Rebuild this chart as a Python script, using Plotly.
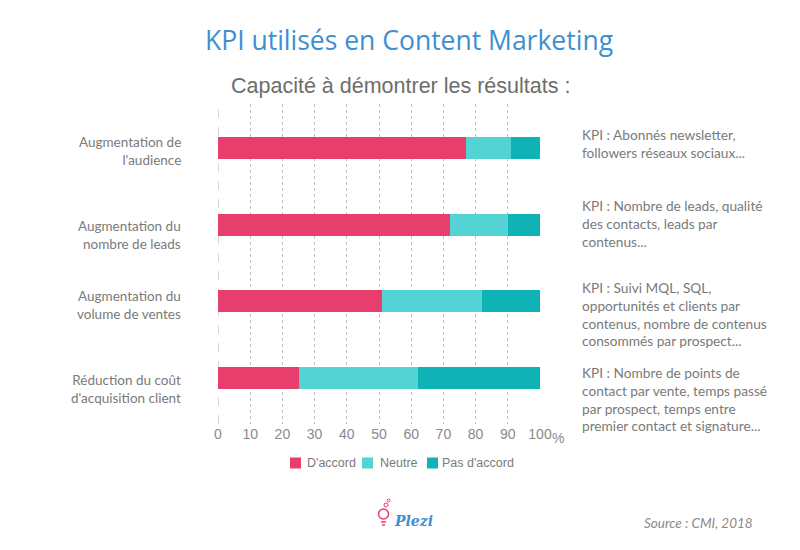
import plotly.graph_objects as go

categories = ["Augmentation de<br>l'audience",
              "Augmentation du<br>nombre de leads",
              "Augmentation du<br>volume de ventes",
              "Réduction du coût<br>d'acquisition client"]
series_names = ["D'accord", "Neutre", "Pas d'accord"]
d_accord = [77, 72, 51, 25]
neutre = [14, 18, 31, 37]
pas_accord = [9, 10, 18, 38]
kpi_notes = ["KPI : Abonnés newsletter,<br>followers réseaux sociaux...",
             "KPI : Nombre de leads, qualité<br>des contacts, leads par<br>contenus...",
             "KPI : Suivi MQL, SQL,<br>opportunités et clients par<br>contenus, nombre de contenus<br>consommés par prospect...",
             "KPI : Nombre de points de<br>contact par vente, temps passé<br>par prospect, temps entre<br>premier contact et signature..."]
x_ticks = [0, 10, 20, 30, 40, 50, 60, 70, 80, 90, 100]
x_ticklabels = ["0", "10", "20", "30", "40", "50", "60", "70", "80", "90", "100"]

colors = ["#E83E6E", "#53D3D4", "#10B3B5"]
ypos = list(range(len(categories)))

# plot area geometry in pixels
PL, PR, PT, PB = 218, 540, 104, 424


def px(xp):
    return (xp - PL) / (PR - PL)


def py(yp):
    return (PB - yp) / (PB - PT)


fig = go.Figure()
for name, vals, col in zip(series_names, [d_accord, neutre, pas_accord], colors):
    fig.add_trace(go.Bar(
        x=vals, y=ypos, name=name, orientation="h",
        marker=dict(color=col, line=dict(width=0)), width=0.29,
    ))

annotations = []
shapes = []

# category labels (block centers, px)
cat_center_y = [151.3, 235.3, 305.3, 389.3]
for cat, yy in zip(categories, cat_center_y):
    annotations.append(dict(
        x=px(182), xref="paper", y=py(yy), yref="paper", text=cat, showarrow=False,
        xanchor="right", yanchor="middle", align="right", borderpad=0,
        font=dict(family="Lato", size=13.5, color="#7a7a7a")))

note_center_y = [143.5, 223.5, 313.7, 398.5]
for note, yy in zip(kpi_notes, note_center_y):
    annotations.append(dict(
        x=px(581), xref="paper", y=py(yy), yref="paper", text=note, showarrow=False,
        xanchor="left", yanchor="middle", align="left", borderpad=0,
        font=dict(family="Lato", size=13.7, color="#7a7a7a")))

# legend (manual, compact)
leg_sq = [290, 362, 427]
leg_tx = [306, 379, 441]
for name, col, sx, tx in zip(series_names, colors, leg_sq, leg_tx):
    shapes.append(dict(type="rect", xref="paper", yref="paper",
                       x0=px(sx), x1=px(sx + 11), y0=py(468.5), y1=py(457.5),
                       fillcolor=col, line=dict(width=0)))
    annotations.append(dict(x=px(tx), xref="paper", y=py(463), yref="paper", text=name,
                            showarrow=False, xanchor="left", yanchor="middle", borderpad=0,
                            font=dict(family="Liberation Sans", size=12.5, color="#7a7a7a")))

annotations += [
    dict(x=100, xref="x", y=py(438), yref="paper", text="%", showarrow=False,
         xanchor="left", yanchor="middle", xshift=11, borderpad=0,
         font=dict(family="Liberation Sans", size=14, color="#8a8a8a")),
    dict(x=px(400), xref="paper", y=py(86), yref="paper",
         text="Capacité à démontrer les résultats :",
         showarrow=False, xanchor="center", yanchor="middle",
         font=dict(family="Liberation Sans", size=21.5, color="#6d6d6d")),
    dict(x=px(409), xref="paper", y=py(40), yref="paper",
         text="KPI utilisés en Content Marketing",
         showarrow=False, xanchor="center", yanchor="middle",
         font=dict(family="Open Sans", size=26.5, color="#3D8FD0")),
    dict(x=px(755), xref="paper", y=py(523), yref="paper", text="<i>Source : CMI, 2018</i>",
         showarrow=False, xanchor="right", yanchor="middle",
         font=dict(family="Lato", size=13.5, color="#8a8a8a")),
    dict(x=px(392), xref="paper", y=py(521), yref="paper", text="<b><i>Plezi</i></b>",
         showarrow=False, xanchor="left", yanchor="middle",
         font=dict(family="DejaVu Serif", size=14, color="#3D8FD0")),
]

# zero line and logo bulb
shapes += [
    dict(type="line", xref="x", yref="paper", x0=0, x1=0, y0=0, y1=1,
         line=dict(color="#b0b0b0", width=1, dash="dash"), layer="below"),
    dict(type="circle", xref="paper", yref="paper",
         x0=px(378.5), x1=px(388.5), y0=py(519), y1=py(509),
         line=dict(color="#E83E6E", width=1.5)),
    dict(type="line", xref="paper", yref="paper",
         x0=px(381), x1=px(386), y0=py(522), y1=py(522),
         line=dict(color="#E83E6E", width=1.5)),
    dict(type="line", xref="paper", yref="paper",
         x0=px(382), x1=px(385), y0=py(525), y1=py(525),
         line=dict(color="#E83E6E", width=1.5)),
    dict(type="circle", xref="paper", yref="paper",
         x0=px(384), x1=px(388), y0=py(507), y1=py(503),
         line=dict(color="#E83E6E", width=1)),
    dict(type="circle", xref="paper", yref="paper",
         x0=px(387), x1=px(390), y0=py(502), y1=py(499),
         line=dict(color="#E83E6E", width=1)),
]

fig.update_layout(
    width=800, height=550,
    margin=dict(l=PL, r=800 - PR, t=PT, b=550 - PB),
    paper_bgcolor="white", plot_bgcolor="white",
    barmode="stack",
    showlegend=False,
    annotations=annotations,
    shapes=shapes,
    xaxis=dict(range=[0, 100], tickvals=x_ticks, ticktext=x_ticklabels,
               showgrid=True, gridcolor="#c2c2c2", griddash="dot", gridwidth=1,
               zeroline=False, showline=False, ticks="",
               tickfont=dict(family="Liberation Sans", size=14, color="#8a8a8a")),
    yaxis=dict(range=[3.6, -0.574], showticklabels=False, showgrid=False,
               zeroline=False, showline=False, ticks=""),
)

fig.write_html("out.html", config={"displayModeBar": False},
               post_script="document.body.style.margin='0';document.body.style.padding='0';")
